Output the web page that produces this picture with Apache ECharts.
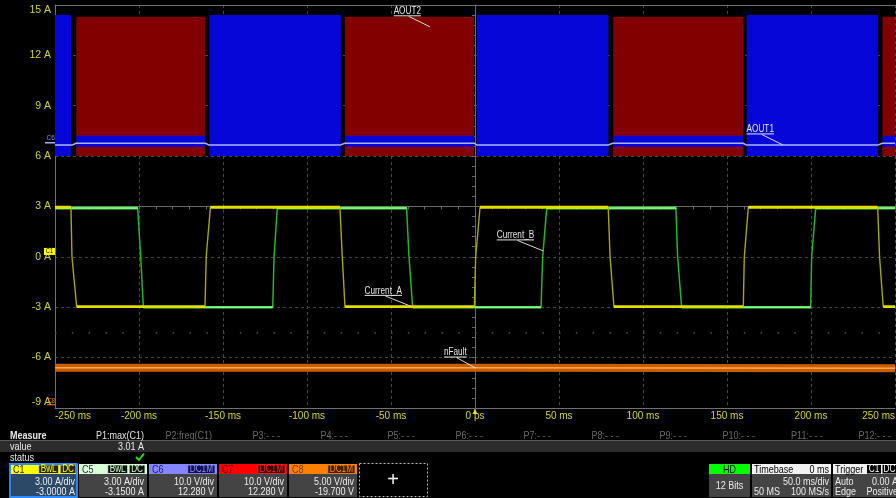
<!DOCTYPE html>
<html><head><meta charset="utf-8">
<script src="https://cdn.jsdelivr.net/npm/echarts@6/dist/echarts.min.js"></script>
<style>html,body{margin:0;padding:0;background:#000;overflow:hidden}#c{width:896px;height:498px}</style>
</head><body><div id="c"></div>
<script>
// ---------------- data ----------------
const timeTicks = [-250,-200,-150,-100,-50,0,50,100,150,200,250];
const timeTickLabels = ['-250 ms','-200 ms','-150 ms','-100 ms','-50 ms','0 ps','50 ms','100 ms','150 ms','200 ms','250 ms'];
const topTicks = [6,9,12,15];
const topTickLabels = ['','9 A','12 A','15 A'];
const bottomTicks = [-9,-6,-3,0,3,6];
const bottomTickLabels = ['-9 A','-6 A','-3 A','0 A','3 A','6 A'];

// AOUT1 (C6, blue) / AOUT2 (C7, red) switching bursts [start ms, end ms]
const aout1Bursts = [[-250,-240.5],[-158.1,-79.9],[1.0,79.4],[161.7,240.0]];
const aout2Bursts = [[-237.3,-160.7],[-77.4,-0.6],[82.3,159.7],[242.6,250]];
const aout1Peak = 14.4;
const aout2Peak = 14.3;
const aout1Strip = 7.2;   // blue floor level during AOUT2 bursts
const aout2Strip = 6.55;  // red floor level during AOUT2 bursts

// C6 averaged trace
const c6Trace_t = [-250,-239.5,-237.5,-160.5,-158.5,-80,-77.5,-0.5,1,79.5,82,159.5,161.5,240,242.5,250];
const c6Trace_v = [6.66,6.66,6.76,6.76,6.66,6.66,6.76,6.76,6.66,6.66,6.76,6.76,6.66,6.66,6.76,6.76];

// Current_A (C1, yellow)
const currentA_t = [-250,-240.5,-239.9,-237.1,-160.7,-160.0,-157.5,-80.4,-79.0,-77.4,-0.4,0.4,3.0,79.3,80.4,82.7,159.7,160.3,162.7,239.7,240.8,243.0,250];
const currentA_v = [2.95,2.95,0,-2.97,-2.97,0,2.95,2.95,0,-2.97,-2.97,0,2.95,2.95,0,-2.97,-2.97,0,2.95,2.95,0,-2.97,-2.97];

// Current_B (C5, green)
const currentB_t = [-250,-200.8,-199.0,-197.4,-120.4,-119.6,-117.7,-40.7,-39.3,-37.1,39.3,40.3,42.7,119.6,120.6,123.0,199.8,200.4,202.8,250];
const currentB_v = [2.9,2.9,0,-3.0,-3.0,0,2.9,2.9,0,-3.0,-3.0,0,2.9,2.9,0,-3.0,-3.0,0,2.9,2.9];

// nFault (C8, orange)
const nFault_t = [-250,0,0.6,250];
const nFault_v = [-6.6,-6.6,-6.64,-6.64];

// annotations
const annoText = ['AOUT2','AOUT1','Current_A','Current_B','nFault'];
const annoGrid = [0,0,1,1,1];
const annoT = [-26.8,183.3,-38.1,40.6,0.4];
const annoV = [13.7,6.66,-2.95,0.35,-6.62];

// measurement table
const measureLabels = ['P1:max(C1)','P2:freq(C1)','P3:- - -','P4:- - -','P5:- - -','P6:- - -','P7:- - -','P8:- - -','P9:- - -','P10:- - -','P11:- - -','P12:- - -'];
const measureValue = '3.01 A';
const channelNames = ['C1','C5','C6','C7','C8'];
const channelTags = [['BwL','DC'],['BwL','DC'],['DC1M'],['DC1M'],['DC1M']];
const channelScale = ['3.00 A/div','3.00 A/div','10.0 V/div','10.0 V/div','5.00 V/div'];
const channelOffset = ['-3.0000 A','-3.1500 A','12.280 V','12.280 V','-19.700 V'];

// ---------------- helpers ----------------
const FONT = "'Liberation Sans',Arial,sans-serif";
const NARROW = 0.82;
const zip = (a,b) => a.map((t,i)=>[t,b[i]]);
// keep only flat (level) stretches of a trace, breaking at transitions
const levels = (a,b) => { const d=[]; for(let i=0;i<a.length;i++){ if(i && b[i]!==b[i-1]) d.push([(a[i]+a[i-1])/2,null]); d.push([a[i],b[i]]); } return d; };
const fmt = (ticks,labels) => v => { const i = ticks.findIndex(t=>Math.abs(t-v)<1e-6); return i<0?'':labels[i]; };
function segSeries(segs){
  segs = segs.slice().sort((p,q)=>p[0]-q[0]);
  const d=[];
  segs.forEach((s,i)=>{ if(i) d.push([(segs[i-1][1]+s[0])/2,null]); d.push([s[0],s[2]],[s[1],s[2]]); });
  return d;
}
const splitStyle = {show:true, lineStyle:{color:'#484848', type:[3,3], width:1}};
const axisGray = '#707070';

const chart = echarts.init(document.getElementById('c'), null, {renderer:'canvas'});
const areaSeries = (name, data, color) => ({type:'line', name, xAxisIndex:0, yAxisIndex:0, data, symbol:'none', silent:true,
  lineStyle:{opacity:0, width:0}, areaStyle:{color, opacity:1, origin:'start'}, animation:false});
const lineSeries = (name, data, color, width, extra) => Object.assign({type:'line', name, xAxisIndex:1, yAxisIndex:1, data, symbol:'none', silent:true,
  lineStyle:{color, width}, animation:false}, extra||{});

const option = {
  backgroundColor:'#000',
  animation:false,
  grid:[{left:55,right:1,top:5,height:151,outerBoundsMode:'none',containLabel:false},
        {left:55,right:1,top:156,height:252,outerBoundsMode:'none',containLabel:false}],
  xAxis:[
    {type:'value', gridIndex:0, min:-250, max:250, interval:50, position:'top',
     axisLine:{show:true,onZero:false,lineStyle:{color:axisGray}}, axisTick:{show:false}, axisLabel:{show:false}, splitLine:splitStyle},
    {type:'value', gridIndex:1, min:-250, max:250, interval:50, position:'bottom',
     axisLine:{show:true,onZero:false,lineStyle:{color:axisGray}}, axisTick:{show:false},
     axisLabel:{show:true,color:'#d6d61e',fontFamily:FONT,fontSize:10,margin:3,alignMinLabel:'left',alignMaxLabel:'right',formatter:fmt(timeTicks,timeTickLabels)}, splitLine:splitStyle},
    {type:'value', gridIndex:1, min:-250, max:250, interval:10, position:'bottom',
     axisLine:{show:true,onZero:true,onZeroAxisIndex:4,lineStyle:{color:'#6a6a6a'}}, axisTick:{show:true,length:3,lineStyle:{color:'#6a6a6a'}},
     axisLabel:{show:false}, splitLine:{show:false}}
  ],
  yAxis:[
    {type:'value', gridIndex:0, min:6, max:15, interval:3, position:'left',
     axisLine:{show:true,onZero:false,lineStyle:{color:axisGray}}, axisTick:{show:false},
     axisLabel:{color:'#d2d22a',fontFamily:FONT,fontSize:10.5,margin:4,formatter:fmt(topTicks,topTickLabels),verticalAlignMaxLabel:'top'}, splitLine:splitStyle},
    {type:'value', gridIndex:1, min:-9, max:6, interval:3, position:'left',
     axisLine:{show:true,onZero:false,lineStyle:{color:axisGray}}, axisTick:{show:false},
     axisLabel:{color:'#d2d22a',fontFamily:FONT,fontSize:10.5,margin:4,formatter:fmt(bottomTicks,bottomTickLabels),verticalAlignMinLabel:'bottom'}, splitLine:splitStyle},
    {type:'value', gridIndex:0, min:6, max:15, interval:0.6, position:'left',
     axisLine:{show:true,onZero:true,lineStyle:{color:'#6a6a6a'}}, axisTick:{show:true,length:3,lineStyle:{color:'#6a6a6a'}}, axisLabel:{show:false}, splitLine:{show:false}},
    {type:'value', gridIndex:1, min:-9, max:6, interval:0.6, position:'left',
     axisLine:{show:true,onZero:true,lineStyle:{color:'#6a6a6a'}}, axisTick:{show:true,length:3,lineStyle:{color:'#6a6a6a'}}, axisLabel:{show:false}, splitLine:{show:false}},
    {type:'value', gridIndex:1, min:-12, max:3, show:false}
  ],
  series:[
    areaSeries('AOUT2', segSeries(aout2Bursts.map(b=>[b[0],b[1],aout2Peak])), '#830000'),
    areaSeries('AOUT1', segSeries(aout1Bursts.map(b=>[b[0],b[1],aout1Peak]).concat(aout2Bursts.map(b=>[b[0],b[1],aout1Strip]))), '#0606d8'),
    areaSeries('AOUT2 floor', segSeries(aout2Bursts.map(b=>[b[0],b[1],aout2Strip])), '#830000'),
    {type:'line', name:'C6', xAxisIndex:0, yAxisIndex:0, data:zip(c6Trace_t,c6Trace_v), symbol:'none', silent:true, lineStyle:{color:'#a9b2ff',width:1.5}},
    lineSeries('Current_B edges', zip(currentB_t,currentB_v), '#22b822', 1.5),
    lineSeries('Current_B', levels(currentB_t,currentB_v), '#3ee63e', 2.6),
    lineSeries('Current_B core', levels(currentB_t,currentB_v), '#b8ffb8', 0.9),
    lineSeries('Current_A edges', zip(currentA_t,currentA_v), '#a8a800', 1.4),
    lineSeries('Current_A', levels(currentA_t,currentA_v), '#e0e000', 2.8, {
      markLine:{silent:true, symbol:'none', label:{show:false}, data:[{yAxis:-4.5}], lineStyle:{color:'#555', type:[1.5,15.3], width:1.5}}}),
    lineSeries('nFault band', zip(nFault_t,nFault_v), '#c85e00', 8),
    lineSeries('nFault', zip(nFault_t,nFault_v), '#ffa850', 1.5)
  ]
};
chart.setOption(option);

// ---------------- overlay graphics ----------------
const G = [];
const mctx = document.createElement('canvas').getContext('2d');
const fontStr = (size,bold) => `${bold?'bold ':''}${size}px ${FONT}`;
const measure = (s,size,bold) => { mctx.font = fontStr(size,bold); return mctx.measureText(s).width*NARROW; };
function T(x,y,s,fill,o){ o=o||{}; G.push({type:'text', silent:true, z:110, x, y, scaleX:NARROW,
  style:{text:s, fill, font:fontStr(o.size||11,o.bold), align:o.align||'left', verticalAlign:'middle', textAlign:o.align||'left', textVerticalAlign:'middle'}}); }
function R(x,y,w,h,fill,stroke,lw,dash){ G.push({type:'rect', silent:true, z:100, shape:{x,y,width:w,height:h},
  style:{fill:fill||'none', stroke:stroke||'none', lineWidth:lw||0, lineDash:dash||null}}); }
function L(pts,stroke,lw,z){ G.push({type:'polyline', silent:true, z:z||105, shape:{points:pts}, style:{stroke, lineWidth:lw||1, fill:'none'}}); }
function P(pts,fill){ G.push({type:'polygon', silent:true, z:105, shape:{points:pts}, style:{fill}}); }

// annotations
annoText.forEach((s,i)=>{
  const [px,py] = chart.convertToPixel({gridIndex:annoGrid[i]}, [annoT[i], annoV[i]]);
  const w = measure(s,10);
  const right = px-9, left = right-w, ty = py-15.5;
  T(left, ty, s, '#e6e6e6', {size:10});
  L([[left,ty+4.5],[right,ty+4.5]], '#e6e6e6', 1);
  L([[left+0.55*w,ty+5],[px,py]], '#d8d8d8', 1);
});

// left channel markers
{
  const [,y6] = chart.convertToPixel({gridIndex:0}, [-250, 6.76]);
  T(55, y6-5, 'C6', '#8c8cf0', {size:8, align:'right'});
  L([[45,y6-0.5],[55,y6-0.5]], '#a9b2ff', 1.5);
  const [,y1] = chart.convertToPixel({gridIndex:1}, [-250, 0.32]);
  R(44, y1-3.5, 11, 7, '#ffff00');
  T(49.5, y1, 'C1', '#000', {size:7, align:'center'});
  const [,y8] = chart.convertToPixel({gridIndex:1}, [-250, -8.6]);
  T(55, y8, 'C8', '#ff8000', {size:7, align:'right'});
  L([[47,y8+3.5],[55,y8+3.5]], '#ff8000', 1);
  const [x0,yb] = chart.convertToPixel({gridIndex:1}, [0, -9]);
  P([[x0-2.5,yb+6],[x0+2.5,yb+6],[x0,yb+1]], '#e6e600');
  L([[x0,yb+1],[x0,yb+6]], '#e6e600', 1);
}

// measure table
T(10, 436, 'Measure', '#e8e8e8', {bold:true});
measureLabels.forEach((s,i)=>{ T(144+68*i-(i>=4?1:0), 436, s, i===0?'#e0e0e0':'#6a6a6a', {align:'right'}); });
L([[0,440.5],[896,440.5]], '#5a5a5a', 1, 99);
R(0, 441, 896, 11, '#2c2c2c');
T(10, 447, 'value', '#e8e8e8');
T(144, 447, measureValue, '#e8e8e8', {align:'right'});
T(10, 458, 'status', '#e8e8e8');
L([[136,457],[139,460],[144,453.5]], '#28d228', 2);

// channel boxes
const chX = [10,79,149,219,289];
const chHead = ['#ffff00','#d9ffd9','#8585ff','#ff0000','#ff8000'];
const chHeadText = ['#202000','#303030','#1c1c70','#6a0000','#7a3a00'];
const chTagBg = ['#262600','#101010','#0e0e50','#3c0000','#402000'];
const chTagText = ['#ffff30','#d0ffd0','#9090ff','#ff2a2a','#ff8a10'];
const chBody = ['#2c4968','#444','#444','#444','#444'];
channelNames.forEach((n,i)=>{
  const x=chX[i], w=68;
  R(x,464,w,10,chHead[i]);
  R(x,474,w,23,chBody[i]);
  T(x+3,469.5,n,chHeadText[i]);
  let r = x+w-2;
  channelTags[i].slice().reverse().forEach(tg=>{
    const tw = measure(tg,10)+4;
    R(r-tw,465,tw,8.5,chTagBg[i],chTagText[i],0.8);
    T(r-tw/2,469.5,tg,chTagText[i],{size:10,align:'center'});
    r -= tw+1.5;
  });
  T(x+w-3,482,channelScale[i],'#ececec',{align:'right'});
  T(x+w-3,492,channelOffset[i],'#ececec',{align:'right'});
});
R(10,464,67,33,'none','#2d8cff',1.8);
R(359.5,463.5,68,33,'none','#bdbdbd',1,[2,2]);
G.push({type:'text', silent:true, z:110, x:393, y:480, style:{text:'+', fill:'#f4f4f4', font:`20px ${FONT}`, align:'center', verticalAlign:'middle', textAlign:'center', textVerticalAlign:'middle'}});

// HD / Timebase / Trigger
R(709,464,41,10,'#00ff00'); R(709,474,41,23,'#444');
T(729.5,469.5,'HD','#000',{align:'center'});
T(729.5,486,'12 Bits','#ececec',{align:'center'});
R(752,464,79,10,'#f2f2f2'); R(752,474,79,23,'#444');
T(754,469.5,'Timebase','#000'); T(829,469.5,'0 ms','#000',{align:'right'});
T(829,481.5,'50.0 ms/div','#ececec',{align:'right'});
T(754,492,'50 MS','#ececec'); T(829,492,'100 MS/s','#ececec',{align:'right'});
R(833,464,63,10,'#f2f2f2'); R(833,474,63,23,'#444');
T(835,469.5,'Trigger','#000');
R(867,465,14,8.5,'#000'); T(874,469.5,'C1','#fff',{size:10,align:'center'});
R(882.5,465,14,8.5,'#000'); T(889.5,469.5,'DC','#fff',{size:10,align:'center'});
T(835,481.5,'Auto','#ececec'); T(898,481.5,'0.00 A','#ececec',{align:'right'});
T(835,492,'Edge','#ececec'); T(898,492,'Positive','#ececec',{align:'right'});

chart.setOption({graphic:{elements:G}});
</script></body></html>
